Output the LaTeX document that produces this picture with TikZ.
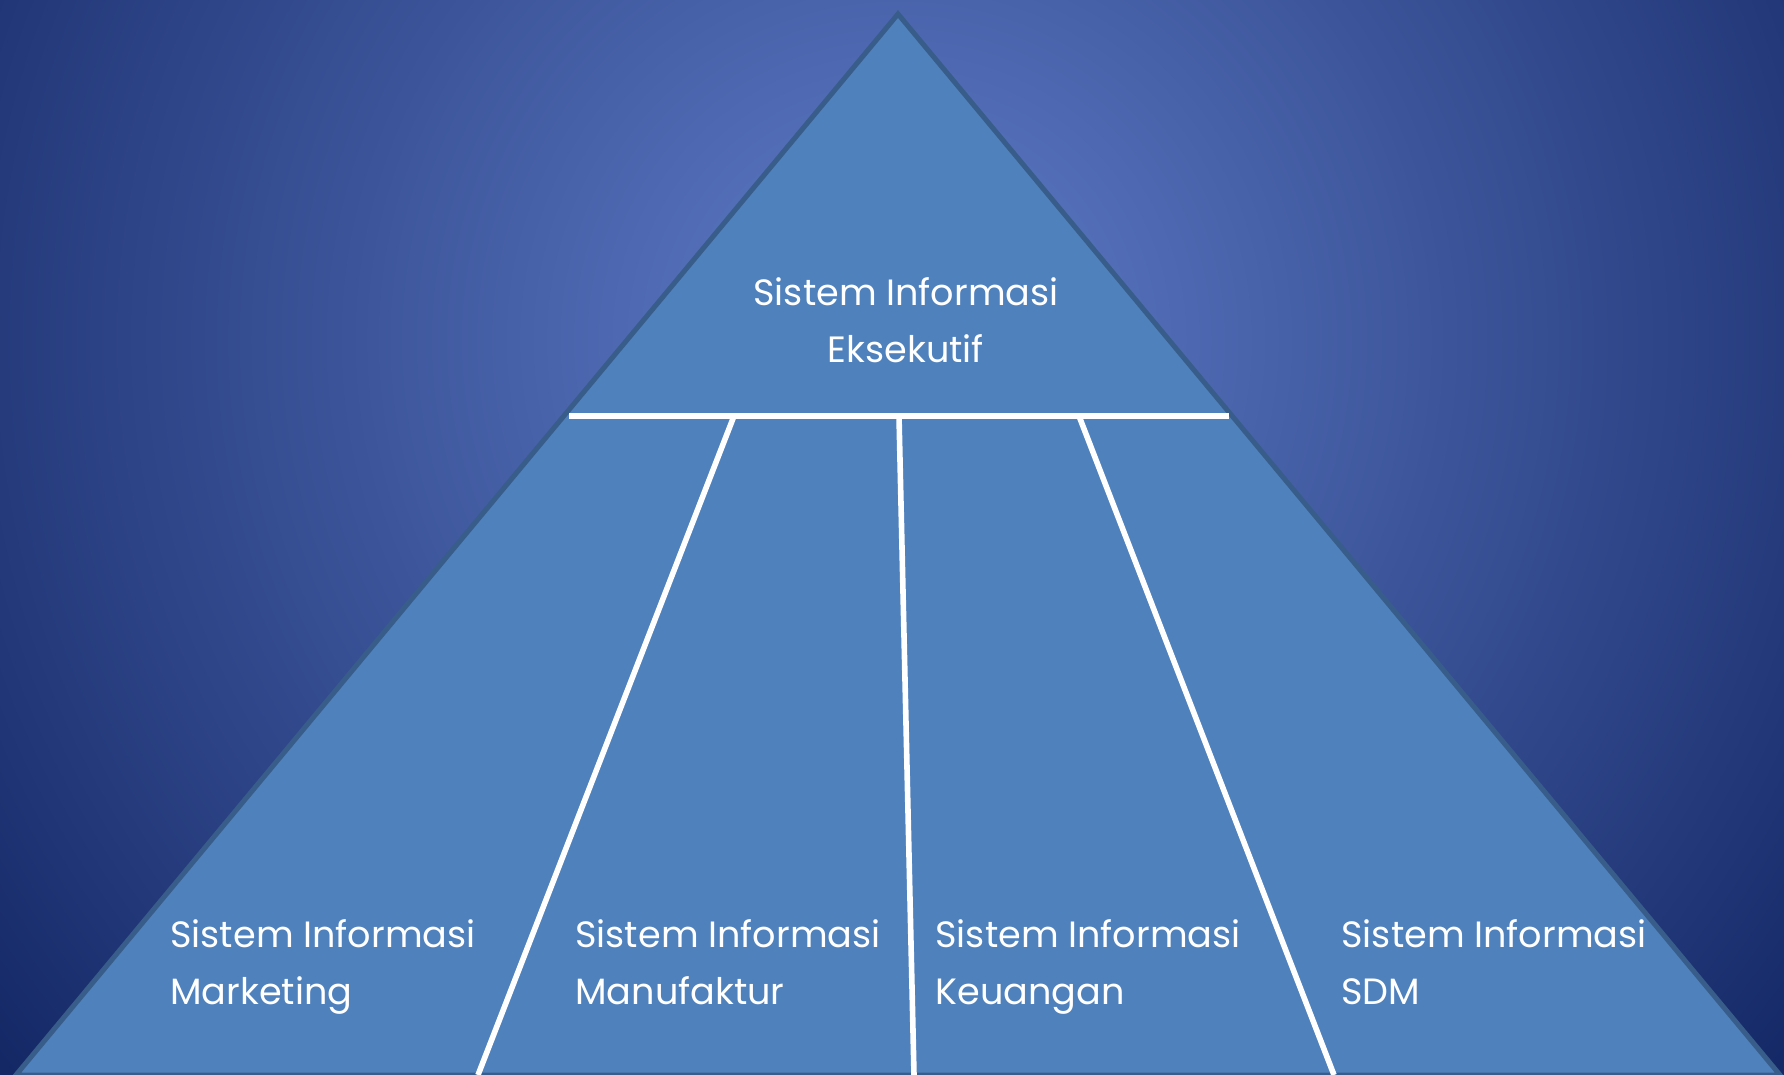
\documentclass[tikz,border=0pt]{standalone}
\usepackage{fontspec}
\setmainfont{Poppins}
\usetikzlibrary{positioning}

\definecolor{bgdark}{HTML}{142866}
\definecolor{bglight}{HTML}{5773BD}
\definecolor{pyrfill}{HTML}{4F81BD}
\definecolor{pyrline}{HTML}{385D8A}
\pgfdeclareradialshading{bgglow}{\pgfpoint{0bp}{0bp}}{color(0bp)=(bglight); color(3bp)=(bglight); color(24bp)=(bgdark); color(50bp)=(bgdark)}

\begin{document}
\begin{tikzpicture}[line join=miter,x=0.5pt,y=-0.5pt,
  divider/.style={white,line width=2.8pt,line cap=butt},
  sitext/.style={text=white,font=\fontsize{18.3}{28.5}\selectfont,align=left,inner sep=0pt}]
\useasboundingbox (0,0) rectangle (1784,1075);
\clip (0,0) rectangle (1784,1075);
\shade [shading=bgglow] (-301,-860) rectangle (2099,1540);
% pyramid
\coordinate (apex) at (898,14);
\coordinate (baseL) at (16,1075);
\coordinate (baseR) at (1780,1075);
\draw [fill=pyrfill,draw=pyrline,line width=2.5pt] (apex)--(baseL)--(baseR)--cycle;
% dividers
\coordinate (splitL) at (569,416);
\coordinate (splitR) at (1229,416);
\coordinate (topA) at (734,416);
\coordinate (topB) at (899,416);
\coordinate (topC) at (1079,416);
\coordinate (footA) at (478,1075);
\coordinate (footB) at (914,1075);
\coordinate (footC) at (1334,1075);
\draw [divider] (splitL)--(splitR);
\draw [divider] (topA)--(footA);
\draw [divider] (topB)--(footB);
\draw [divider] (topC)--(footC);
% texts (base = last line)
\node [sitext,align=center,anchor=base] (exec) at (906,363) {Sistem Informasi\\Eksekutif};
\node [sitext,anchor=base west] (mkt) at (170,1004) {Sistem Informasi\\Marketing};
\node [sitext,anchor=base west] (mfg) at (575,1004) {Sistem Informasi\\Manufaktur};
\node [sitext,anchor=base west] (fin) at (935,1004) {Sistem Informasi\\Keuangan};
\node [sitext,anchor=base west] (hrd) at (1341,1004) {Sistem Informasi\\SDM};
\end{tikzpicture}
\end{document}
